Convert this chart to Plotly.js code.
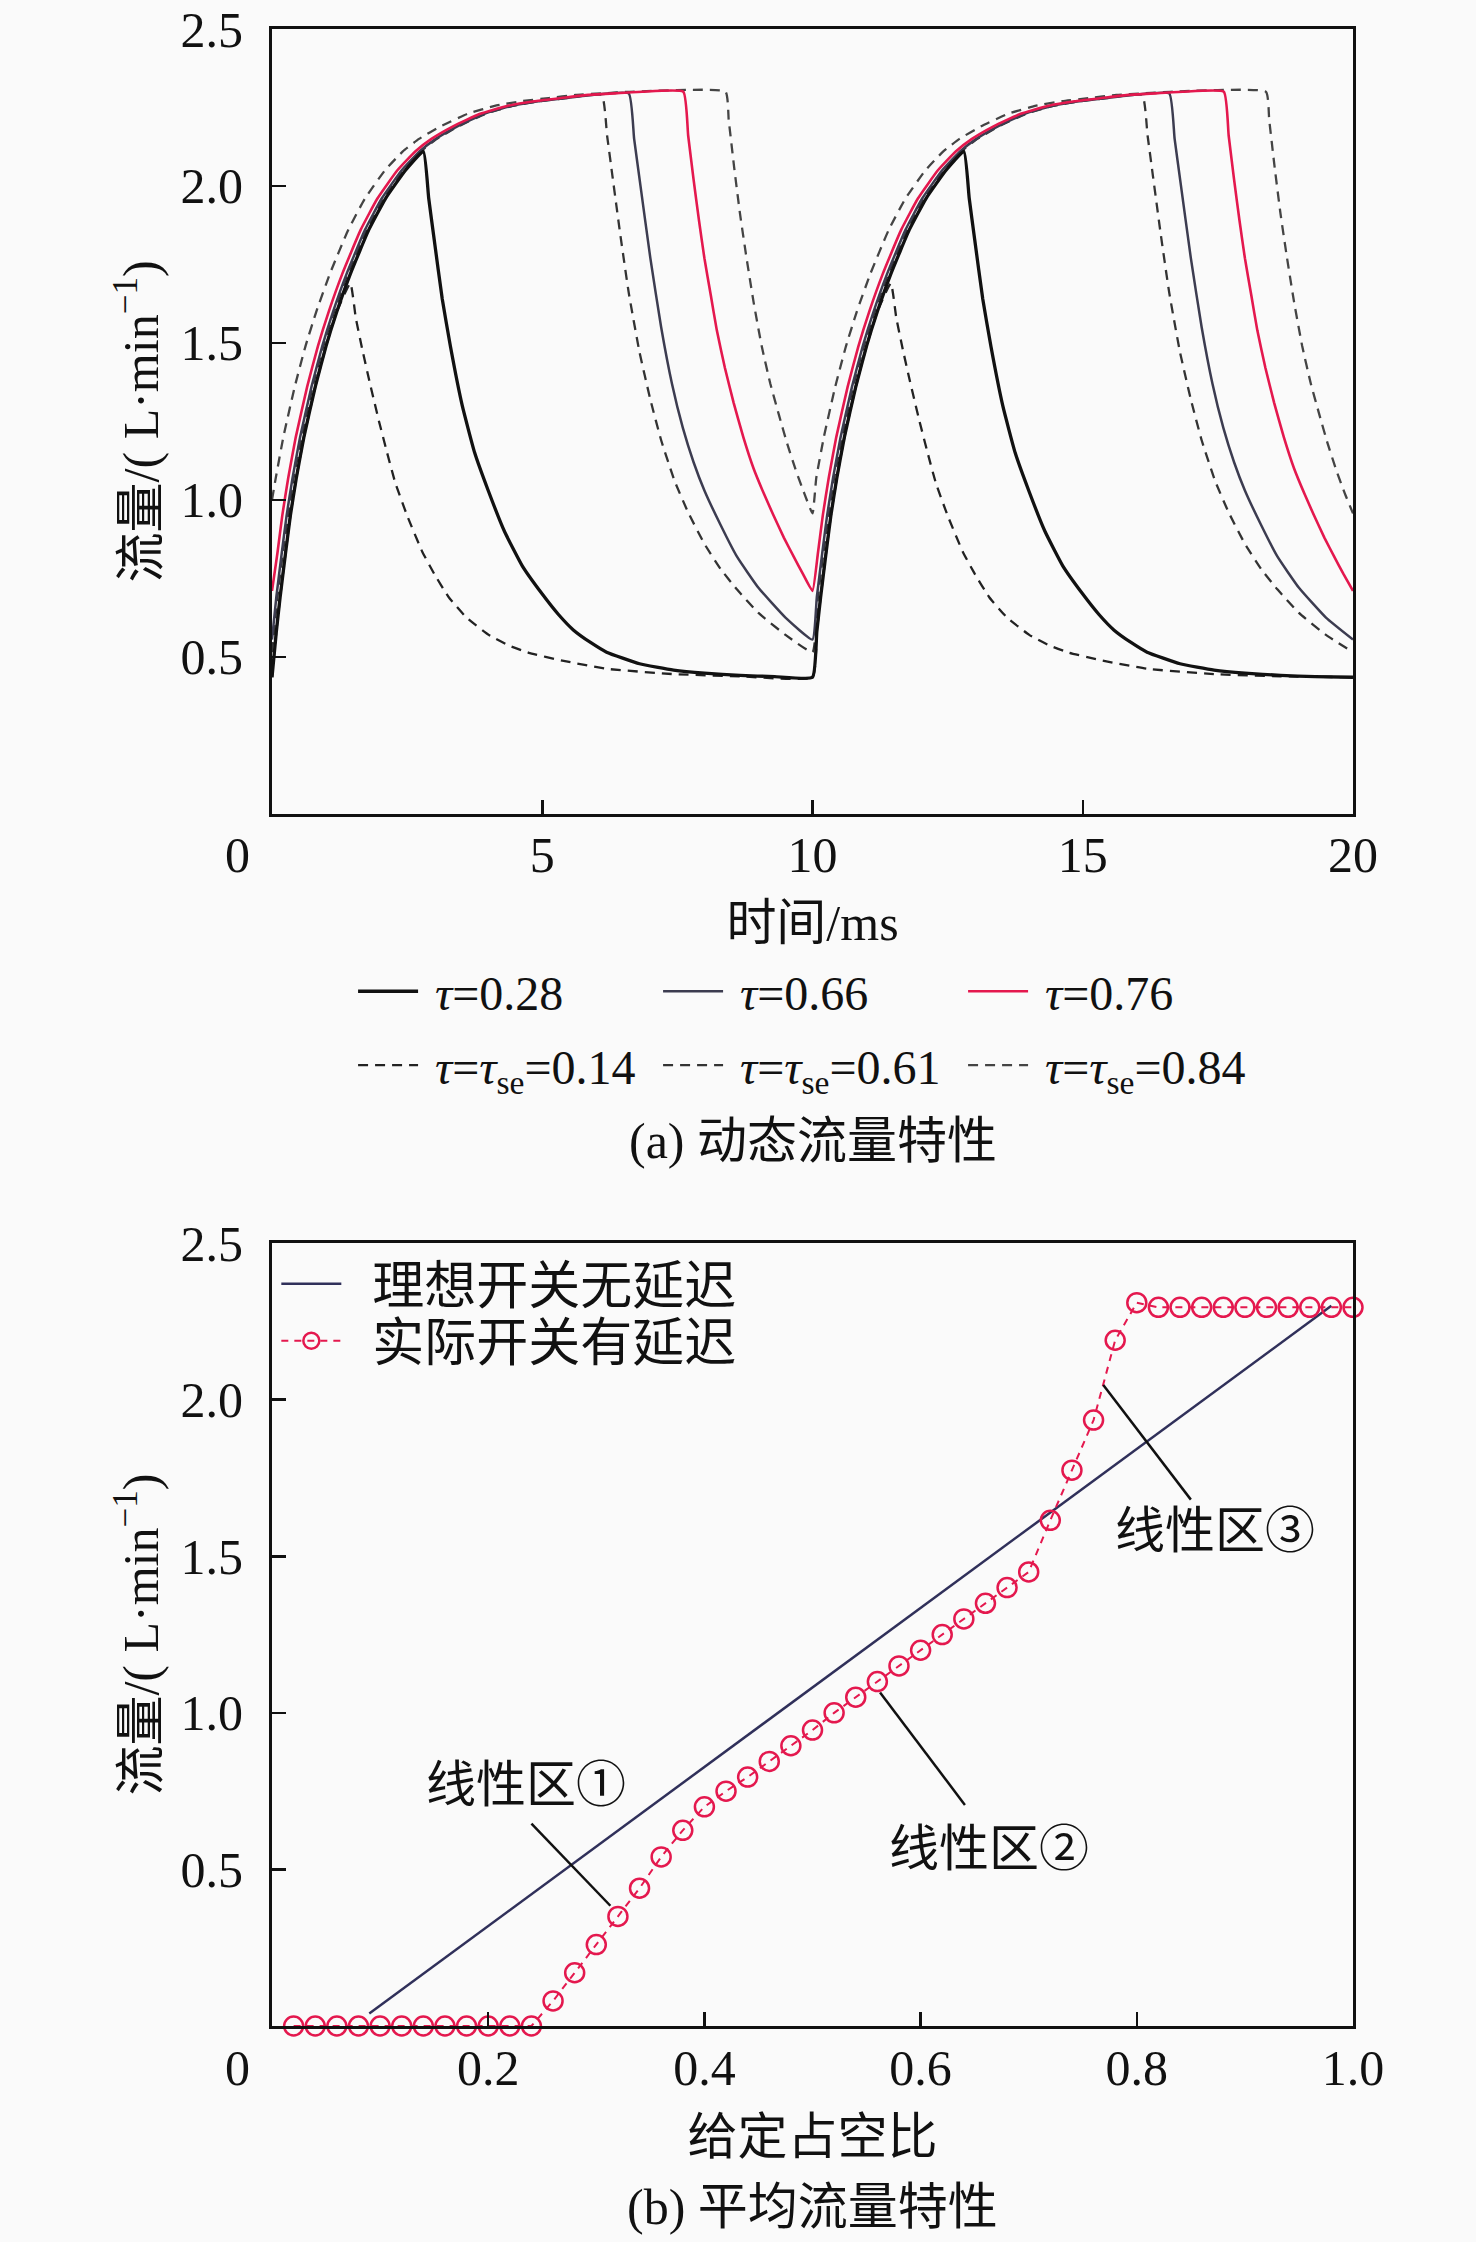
<!DOCTYPE html>
<html>
<head>
<meta charset="utf-8">
<script src="https://cdn.plot.ly/plotly-3.0.1.min.js"></script>
<style>
  body { margin: 0; background: #fafafa; }
  #chart { width: 1476px; height: 2242px; }
</style>
</head>
<body>
<div id="chart"></div>
<script>
// (a) dynamic flow, time in ms, flow in L/min
let t028 = [0,0.08,0.15,0.25,0.34,0.45,0.59,0.8,1,1.2,1.45,1.79,2.1,2.47,2.8,2.9,3,3.15,3.3,3.52,3.75,4,4.3,4.63,5,5.3,5.58,5.9,6.19,6.8,7.43,8,8.66,9.3,10,
  10.08,10.15,10.25,10.34,10.45,10.59,10.8,11,11.2,11.45,11.79,12.1,12.47,12.8,12.9,13,13.15,13.3,13.52,13.75,14,14.3,14.63,15,15.3,15.58,15.9,16.19,16.8,17.43,18,18.66,19.3,20];
let q028 = [0.435,0.58,0.69,0.83,0.95,1.07,1.2,1.36,1.49,1.6,1.72,1.86,1.96,2.05,2.11,1.96,1.83,1.64,1.49,1.30,1.15,1.03,0.90,0.79,0.70,0.635,0.585,0.545,0.515,0.478,0.458,0.448,0.441,0.437,0.435,
  0.58,0.69,0.83,0.95,1.07,1.2,1.36,1.49,1.6,1.72,1.86,1.96,2.05,2.11,1.96,1.83,1.64,1.49,1.30,1.15,1.03,0.90,0.79,0.70,0.635,0.585,0.545,0.515,0.478,0.458,0.448,0.441,0.437,0.435];

let t066 = [0,0.08,0.18,0.27,0.38,0.52,0.73,0.93,1.13,1.38,1.72,2.03,2.4,2.73,3.03,3.43,3.93,4.43,4.93,5.43,5.93,6.6,6.7,6.81,7,7.2,7.4,7.6,7.8,8,8.3,8.6,9,9.5,10,
  10.08,10.18,10.27,10.38,10.52,10.73,10.93,11.13,11.38,11.72,12.03,12.4,12.73,13.03,13.43,13.93,14.43,14.93,15.43,15.93,16.6,16.7,16.81,17,17.2,17.4,17.6,17.8,18,18.3,18.6,19,19.5,20];
let q066 = [0.555,0.69,0.83,0.95,1.07,1.2,1.36,1.49,1.6,1.72,1.86,1.96,2.05,2.11,2.15,2.19,2.23,2.255,2.27,2.28,2.29,2.295,2.15,2.01,1.77,1.55,1.37,1.23,1.12,1.03,0.92,0.82,0.72,0.625,0.555,
  0.69,0.83,0.95,1.07,1.2,1.36,1.49,1.6,1.72,1.86,1.96,2.05,2.11,2.15,2.19,2.23,2.255,2.27,2.28,2.29,2.295,2.15,2.01,1.77,1.55,1.37,1.23,1.12,1.03,0.92,0.82,0.72,0.625,0.555];

let t076 = [0,0.1,0.19,0.3,0.44,0.65,0.85,1.05,1.3,1.64,1.95,2.32,2.65,2.95,3.35,3.85,4.35,4.85,5.35,5.85,6.35,6.85,7.61,7.7,7.8,7.9,8,8.12,8.23,8.38,8.54,8.72,8.91,9.1,9.28,9.47,9.65,9.82,10,
  10.1,10.19,10.3,10.44,10.65,10.85,11.05,11.3,11.64,11.95,12.32,12.65,12.95,13.35,13.85,14.35,14.85,15.35,15.85,16.35,16.85,17.61,17.7,17.8,17.9,18,18.12,18.23,18.38,18.54,18.72,18.91,19.1,19.28,19.47,19.65,19.82,20];
let q076 = [0.71,0.83,0.95,1.07,1.2,1.36,1.49,1.6,1.72,1.86,1.96,2.05,2.11,2.15,2.19,2.23,2.255,2.27,2.28,2.29,2.295,2.30,2.30,2.16,2.02,1.89,1.77,1.65,1.54,1.42,1.31,1.20,1.10,1.02,0.95,0.88,0.82,0.765,0.71,
  0.83,0.95,1.07,1.2,1.36,1.49,1.6,1.72,1.86,1.96,2.05,2.11,2.15,2.19,2.23,2.255,2.27,2.28,2.29,2.295,2.30,2.30,2.16,2.02,1.89,1.77,1.65,1.54,1.42,1.31,1.20,1.10,1.02,0.95,0.88,0.82,0.765,0.71];

let t014 = [0,0.08,0.15,0.25,0.34,0.45,0.59,0.8,1,1.2,1.45,1.55,1.67,1.8,1.98,2.13,2.28,2.5,2.78,3,3.27,3.6,4.01,4.4,4.75,5.37,6.19,7.43,8.66,10,
  10.08,10.15,10.25,10.34,10.45,10.59,10.8,11,11.2,11.45,11.55,11.67,11.8,11.98,12.13,12.28,12.5,12.78,13,13.27,13.6,14.01,14.4,14.75,15.37,16.19,17.43,18.66,20];
let q014 = [0.435,0.58,0.69,0.83,0.95,1.07,1.2,1.36,1.49,1.6,1.69,1.58,1.48,1.38,1.25,1.15,1.055,0.95,0.835,0.765,0.69,0.625,0.57,0.535,0.513,0.488,0.462,0.445,0.438,0.435,
  0.58,0.69,0.83,0.95,1.07,1.2,1.36,1.49,1.6,1.69,1.58,1.48,1.38,1.25,1.15,1.055,0.95,0.835,0.765,0.69,0.625,0.57,0.535,0.513,0.488,0.462,0.445,0.438,0.435];

let t061 = [0,0.1,0.2,0.3,0.4,0.55,0.75,0.95,1.15,1.4,1.75,2.05,2.42,2.75,3.05,3.45,3.95,4.45,4.95,5.45,6.1,6.2,6.3,6.44,6.6,6.8,7,7.2,7.45,7.7,8,8.3,8.6,9,9.5,10,
  10.1,10.2,10.3,10.4,10.55,10.75,10.95,11.15,11.4,11.75,12.05,12.42,12.75,13.05,13.45,13.95,14.45,14.95,15.45,16.1,16.2,16.3,16.44,16.6,16.8,17,17.2,17.45,17.7,18,18.3,18.6,19,19.5,20];
let q061 = [0.515,0.69,0.83,0.95,1.07,1.2,1.36,1.49,1.6,1.72,1.86,1.96,2.05,2.11,2.15,2.19,2.23,2.255,2.27,2.28,2.29,2.16,2.03,1.85,1.66,1.47,1.32,1.19,1.06,0.96,0.86,0.78,0.715,0.64,0.57,0.515,
  0.69,0.83,0.95,1.07,1.2,1.36,1.49,1.6,1.72,1.86,1.96,2.05,2.11,2.15,2.19,2.23,2.255,2.27,2.28,2.29,2.16,2.03,1.85,1.66,1.47,1.32,1.19,1.06,0.96,0.86,0.78,0.715,0.64,0.57,0.515];

let t084 = [0,0.07,0.21,0.42,0.62,0.82,1.07,1.41,1.72,2.09,2.42,2.72,3.12,3.62,4.12,4.62,5.12,5.62,6.12,6.62,8.39,8.45,8.55,8.66,8.78,8.91,9.06,9.22,9.38,9.53,9.7,9.85,10,
  10.07,10.21,10.42,10.62,10.82,11.07,11.41,11.72,12.09,12.42,12.72,13.12,13.62,14.12,14.62,15.12,15.62,16.12,16.62,18.39,18.45,18.55,18.66,18.78,18.91,19.06,19.22,19.38,19.53,19.7,19.85,20];
let q084 = [1.0,1.07,1.2,1.36,1.49,1.6,1.72,1.86,1.96,2.05,2.11,2.15,2.19,2.23,2.255,2.27,2.28,2.29,2.295,2.30,2.30,2.21,2.06,1.91,1.77,1.63,1.49,1.37,1.27,1.18,1.09,1.02,0.957,
  1.07,1.2,1.36,1.49,1.6,1.72,1.86,1.96,2.05,2.11,2.15,2.19,2.23,2.255,2.27,2.28,2.29,2.295,2.30,2.30,2.21,2.06,1.91,1.77,1.63,1.49,1.37,1.27,1.18,1.09,1.02,0.957];

// (b) average flow vs given duty ratio
let idealDuty = [0.09, 0.98];
let idealFlow = [0.04, 2.30];

let duty = [0.02,0.04,0.06,0.08,0.10,0.12,0.14,0.16,0.18,0.20,0.22,0.24,0.26,0.28,0.30,0.32,0.34,0.36,0.38,0.40,
  0.42,0.44,0.46,0.48,0.50,0.52,0.54,0.56,0.58,0.60,0.62,0.64,0.66,0.68,0.70,0.72,0.74,0.76,0.78,0.80,
  0.82,0.84,0.86,0.88,0.90,0.92,0.94,0.96,0.98,1.00];
let flow = [0,0,0,0,0,0,0,0,0,0,0,0,0.08,0.17,0.26,0.35,0.44,0.54,0.625,0.70,
  0.75,0.795,0.845,0.895,0.945,1.0,1.05,1.10,1.15,1.20,1.25,1.30,1.35,1.40,1.45,1.615,1.775,1.935,2.19,2.31,
  2.295,2.295,2.295,2.295,2.295,2.295,2.295,2.295,2.295,2.295];

let yTicks = [0.5, 1, 1.5, 2, 2.5];
let yTickText = ['0.5', '1.0', '1.5', '2.0', '2.5'];
let xTicksA = [5, 10, 15, 20];
let xTicksB = [0.2, 0.4, 0.6, 0.8, 1.0];
let xTickTextB = ['0.2', '0.4', '0.6', '0.8', '1.0'];

let serif = 'Liberation Serif, Noto Sans CJK SC, serif';
let red = '#e4184e';
let dash = '10px,7px';
let sp = '\u00a0';

function axis(extra) {
  return Object.assign({
    showline: true,
    mirror: true,
    linecolor: '#111',
    linewidth: 3,
    ticks: 'inside',
    ticklen: 14,
    tickwidth: 2.5,
    tickcolor: '#111',
    showgrid: false,
    zeroline: false,
    tickfont: { family: serif, size: 50, color: '#111' },
    fixedrange: true
  }, extra);
}

function curve(x, y, name, legend, rank, line) {
  line.shape = 'spline';
  line.smoothing = 0.4;
  return { x: x, y: y, mode: 'lines', name: sp + name, legend: legend, legendrank: rank, line: line };
}

let data = [
  curve(t014, q014, '<i>τ</i>=<i>τ</i><sub>se</sub>=0.14', 'legend2', 1, { color: '#222', width: 2.3, dash: dash }),
  curve(t061, q061, '<i>τ</i>=<i>τ</i><sub>se</sub>=0.61', 'legend2', 2, { color: '#333', width: 2.3, dash: dash }),
  curve(t084, q084, '<i>τ</i>=<i>τ</i><sub>se</sub>=0.84', 'legend2', 3, { color: '#444', width: 2.3, dash: dash }),
  curve(t066, q066, '<i>τ</i>=0.66', 'legend', 2, { color: '#3c3c50', width: 2.5 }),
  curve(t076, q076, '<i>τ</i>=0.76', 'legend', 3, { color: red, width: 2.6 }),
  curve(t028, q028, '<i>τ</i>=0.28', 'legend', 1, { color: '#111', width: 3.3 }),

  { x: idealDuty, y: idealFlow, xaxis: 'x2', yaxis: 'y2', mode: 'lines', name: sp + sp + '理想开关无延迟',
    legend: 'legend3', line: { color: '#30305a', width: 2.5 } },
  { x: duty, y: flow, xaxis: 'x2', yaxis: 'y2', mode: 'lines+markers', name: sp + sp + '实际开关有延迟',
    legend: 'legend4', cliponaxis: false,
    line: { color: red, width: 2, dash: '7px,6px' },
    marker: { symbol: 'circle-open', size: 19, color: red, line: { width: 2.5, color: red } } }
];

let cjk = { family: serif, size: 50, color: '#111' };
let numFont = { family: serif, size: 50, color: '#111' };
let clear = 'rgba(0,0,0,0)';

let layout = {
  width: 1476,
  height: 2242,
  margin: { l: 272, r: 123, t: 29, b: 216 },
  paper_bgcolor: '#fafafa',
  plot_bgcolor: '#fafafa',
  showlegend: true,
  xaxis: axis({ domain: [0, 1], anchor: 'y', range: [0, 20], tickvals: xTicksA, ticklabelstandoff: -5,
    title: { text: '时间/ms', font: cjk, standoff: 24 } }),
  yaxis: axis({ domain: [0.607, 1], anchor: 'x', range: [0, 2.5], tickvals: yTicks, ticktext: yTickText, ticklabelstandoff: 16,
    title: { text: '流量/( L·min<sup>−1</sup>)', font: cjk, standoff: 6 } }),
  xaxis2: axis({ domain: [0, 1], anchor: 'y2', range: [0, 1], tickvals: xTicksB, ticktext: xTickTextB, ticklabelstandoff: -4,
    title: { text: '给定占空比', font: cjk, standoff: 24 } }),
  yaxis2: axis({ domain: [0, 0.392], anchor: 'x2', range: [0, 2.5], tickvals: yTicks, ticktext: yTickText, ticklabelstandoff: 16,
    title: { text: '流量/( L·min<sup>−1</sup>)', font: cjk, standoff: 6 } }),
  legend: { orientation: 'h', x: 0.075, y: 0.518, xanchor: 'left', yanchor: 'middle',
    font: { family: serif, size: 48, color: '#111' }, itemwidth: 60, entrywidth: 230, bgcolor: clear },
  legend2: { orientation: 'h', x: 0.075, y: 0.481, xanchor: 'left', yanchor: 'middle',
    font: { family: serif, size: 48, color: '#111' }, itemwidth: 60, entrywidth: 230, bgcolor: clear },
  legend3: { x: 0.004, y: (2026 - 1284) / 1997, xanchor: 'left', yanchor: 'middle',
    font: { family: serif, size: 52, color: '#111' }, itemwidth: 60, bgcolor: clear },
  legend4: { x: 0.004, y: (2026 - 1341) / 1997, xanchor: 'left', yanchor: 'middle',
    font: { family: serif, size: 52, color: '#111' }, itemwidth: 60, bgcolor: clear },
  annotations: [
    { text: '0', xref: 'paper', yref: 'paper', x: -0.032, y: 0.5864, xanchor: 'center', yanchor: 'middle', showarrow: false, font: numFont },
    { text: '0', xref: 'paper', yref: 'paper', x: -0.032, y: -0.021, xanchor: 'center', yanchor: 'middle', showarrow: false, font: numFont },
    { text: '(a) 动态流量特性', xref: 'paper', yref: 'paper', x: 0.5, y: 0.443, xanchor: 'center', yanchor: 'middle', showarrow: false, font: cjk },
    { text: '(b) 平均流量特性', xref: 'paper', yref: 'paper', x: 0.5, y: -0.0906, xanchor: 'center', yanchor: 'middle', showarrow: false, font: cjk },
    { text: '线性区①', xref: 'x2', yref: 'y2', x: 0.235, y: 0.77, showarrow: false, font: cjk },
    { text: '线性区②', xref: 'x2', yref: 'y2', x: 0.663, y: 0.565, showarrow: false, font: cjk },
    { text: '线性区③', xref: 'x2', yref: 'y2', x: 0.872, y: 1.58, showarrow: false, font: cjk }
  ],
  shapes: [
    { type: 'line', xref: 'x2', yref: 'y2', x0: 0.24, y0: 0.646, x1: 0.313, y1: 0.384, line: { color: '#111', width: 2.5 } },
    { type: 'line', xref: 'x2', yref: 'y2', x0: 0.5625, y0: 1.065, x1: 0.641, y1: 0.706, line: { color: '#111', width: 2.5 } },
    { type: 'line', xref: 'x2', yref: 'y2', x0: 0.769, y0: 2.047, x1: 0.85, y1: 1.681, line: { color: '#111', width: 2.5 } }
  ]
};

Plotly.newPlot('chart', data, layout, { displayModeBar: false, staticPlot: true });
</script>
</body>
</html>
